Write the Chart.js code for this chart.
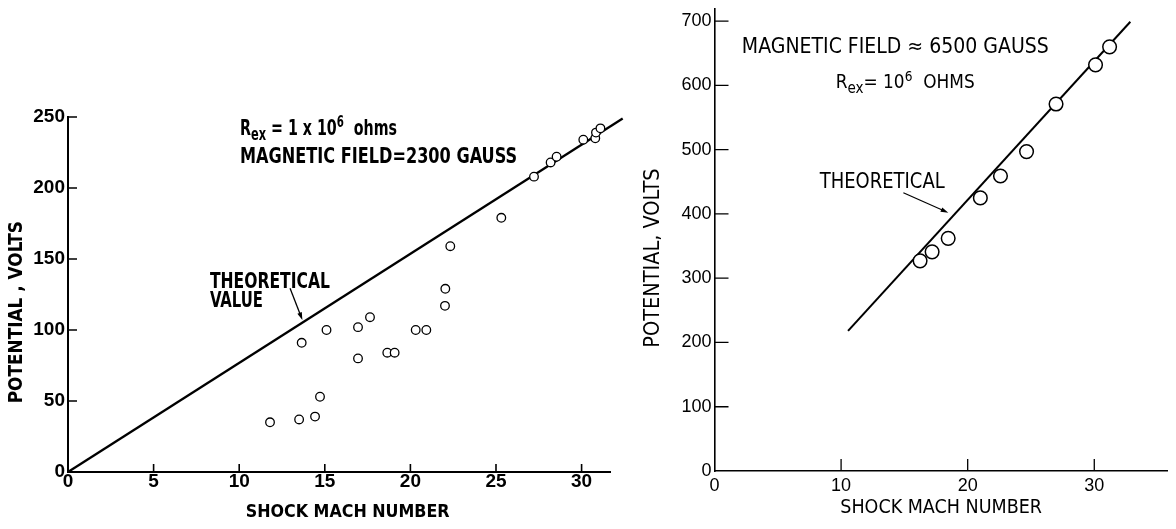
<!DOCTYPE html>
<html><head><meta charset="utf-8">
<script src="https://cdn.jsdelivr.net/npm/chart.js@4.4.1/dist/chart.umd.min.js"></script>
<style>
html,body{margin:0;padding:0;background:#fff;}
body{width:1176px;height:529px;position:relative;overflow:hidden;}
#w1{position:absolute;left:0;top:0;width:640px;height:529px;}
#w2{position:absolute;left:640px;top:0;width:536px;height:529px;}
</style></head><body>
<div id="w1"><canvas id="c1"></canvas></div>
<div id="w2"><canvas id="c2"></canvas></div>
<script>
// ---------- data ----------
const leftMach  = [11.8, 13.5, 13.65, 14.43, 14.72, 15.1, 16.94, 16.94, 17.64, 18.65, 19.08, 20.31, 20.93, 22.02, 22.04, 22.33, 25.31, 27.22, 28.19, 28.54, 30.1, 30.8, 30.84, 31.1];
const leftVolts = [35, 37, 91, 39, 53, 100, 102, 80, 109, 84, 84, 100, 100, 117, 129, 159, 179, 208, 218, 222, 234, 235, 239, 242];
const leftTheoryMach  = [0, 32.4];
const leftTheoryVolts = [0, 249];
const leftXTicks = [0, 5, 10, 15, 20, 25, 30];
const leftYTicks = [0, 50, 100, 150, 200, 250];

const rightMach  = [16.24, 17.19, 18.46, 21.0, 22.59, 24.65, 26.98, 30.1, 31.21];
const rightVolts = [327, 341, 362, 425, 459, 497, 571, 632, 660];
const rightTheoryMach  = [10.55, 32.85];
const rightTheoryVolts = [218, 699];
const rightXTicks = [0, 10, 20, 30];
const rightYTicks = [0, 100, 200, 300, 400, 500, 600, 700];

// ---------- fonts ----------
function hasFont(name){
  const c = document.createElement('canvas').getContext('2d');
  const s = 'MAGNETIC FIELD 0123456789';
  c.font = '40px monospace'; const a = c.measureText(s).width;
  c.font = '40px "' + name + '", monospace'; const b = c.measureText(s).width;
  return Math.abs(a - b) > 1;
}
let NARROW = null;
for (const n of ['Liberation Sans Narrow', 'DejaVu Sans Condensed', 'Roboto Condensed']) { if (hasFont(n)) { NARROW = n; break; } }
const FN = NARROW ? '"' + NARROW + '", "Liberation Sans", sans-serif' : '"Liberation Sans", Arial, sans-serif';
const NF = NARROW ? 1 : 0.85;
const FW = '"Liberation Sans", Arial, sans-serif';

// shifts a centred axis title along its axis by padding it with spaces
function shiftTitle(text, shiftPx, size, weight) {
  const c = document.createElement('canvas').getContext('2d');
  c.font = (weight || 'normal') + ' ' + size + 'px ' + FN;
  const sp = c.measureText(' ').width || 5;
  const n = Math.max(0, Math.round(Math.abs(shiftPx) * 2 / sp));
  return shiftPx > 0 ? ' '.repeat(n) + text : text + ' '.repeat(n);
}

// ---------- plugins ----------
const insideTicks = {
  id: 'insideTicks',
  afterDraw(chart, args, o) {
    const ctx = chart.ctx, xs = chart.scales.x, ys = chart.scales.y, a = chart.chartArea;
    ctx.save(); ctx.strokeStyle = '#000'; ctx.lineWidth = o.width;
    ctx.beginPath();
    xs.ticks.forEach(t => { if (t.value === 0) return; const p = xs.getPixelForValue(t.value); ctx.moveTo(p, a.bottom); ctx.lineTo(p, a.bottom - o.xLen); });
    ys.ticks.forEach(t => { if (t.value === 0) return; const p = ys.getPixelForValue(t.value); ctx.moveTo(a.left, p); ctx.lineTo(a.left + o.yLen, p); });
    ctx.stroke(); ctx.restore();
  }
};

const annot = {
  id: 'annot',
  afterDraw(chart, args, o) {
    const ctx = chart.ctx, xs = chart.scales.x, ys = chart.scales.y;
    ctx.save(); ctx.fillStyle = '#000'; ctx.strokeStyle = '#000';
    (o.items || []).forEach(it => {
      if (it.arrow) {
        const x1 = xs.getPixelForValue(it.arrow[0]), y1 = ys.getPixelForValue(it.arrow[1]);
        const x2 = xs.getPixelForValue(it.arrow[2]), y2 = ys.getPixelForValue(it.arrow[3]);
        const ang = Math.atan2(y2 - y1, x2 - x1), L = it.head || 8;
        ctx.lineWidth = it.lw || 1.3;
        ctx.beginPath(); ctx.moveTo(x1, y1); ctx.lineTo(x2 - Math.cos(ang) * L * 0.6, y2 - Math.sin(ang) * L * 0.6); ctx.stroke();
        ctx.beginPath(); ctx.moveTo(x2, y2);
        ctx.lineTo(x2 - L * Math.cos(ang - 0.3), y2 - L * Math.sin(ang - 0.3));
        ctx.lineTo(x2 - L * Math.cos(ang + 0.3), y2 - L * Math.sin(ang + 0.3));
        ctx.closePath(); ctx.fill();
        return;
      }
      const x0 = xs.getPixelForValue(it.x), y0 = ys.getPixelForValue(it.y);
      const size = it.size * NF, weight = it.weight || 'normal';
      const parts = it.parts;
      const fontFor = p => {
        const s = p.k === 'sub' ? size * 0.8 : p.k === 'sup' ? size * 0.72 : size;
        return weight + ' ' + s.toFixed(1) + 'px ' + FN;
      };
      let total = 0;
      parts.forEach(p => { ctx.font = fontFor(p); total += ctx.measureText(p.t).width; });
      const f = it.w ? it.w / total : 1;
      ctx.save(); ctx.translate(x0, y0); ctx.scale(f, 1); ctx.textBaseline = 'alphabetic'; ctx.textAlign = 'left';
      let cx = 0;
      parts.forEach(p => {
        ctx.font = fontFor(p);
        const dy = p.k === 'sub' ? size * 0.25 : p.k === 'sup' ? -size * 0.38 : 0;
        ctx.fillText(p.t, cx, dy);
        cx += ctx.measureText(p.t).width;
      });
      ctx.restore();
    });
    ctx.restore();
  }
};

function fixTicks(arr) { return s => { s.ticks = arr.map(v => ({ value: v })); }; }
function fitH(h) { return s => { s.height = h; s.paddingLeft = 0; s.paddingRight = 0; s.paddingTop = 0; s.paddingBottom = 0; }; }
function fitW(w) { return s => { s.width = w; s.paddingLeft = 0; s.paddingRight = 0; s.paddingTop = 0; s.paddingBottom = 0; }; }

function pts(xa, ya) { return xa.map((x, i) => ({ x: x, y: ya[i] })); }

const LXT = 17.7 * NF, LYT = 18.8 * NF, RXT = 19.5 * NF, RYT = 21.5 * NF;

// ---------- left chart ----------
new Chart(document.getElementById('c1'), {
  type: 'scatter',
  data: { datasets: [
    { label: 'Measured', data: pts(leftMach, leftVolts), showLine: false, pointRadius: 4.3, pointBorderWidth: 1.3,
      pointBackgroundColor: '#fff', pointBorderColor: '#000', order: 0 },
    { label: 'Theoretical value', data: pts(leftTheoryMach, leftTheoryVolts), showLine: true, borderColor: '#000',
      borderWidth: 2.3, pointRadius: 0, clip: false, order: 1 }
  ]},
  options: {
    responsive: true, maintainAspectRatio: false, animation: false, events: [],
    layout: { padding: { top: 117, right: 29.3, left: 0, bottom: 0 } },
    plugins: {
      legend: { display: false }, tooltip: { enabled: false },
      insideTicks: { width: 1.6, xLen: 8, yLen: 9 },
      annot: { items: [
        { x: 10.05, y: 237.3, size: 21, weight: 'bold', w: 157, parts: [
          { t: 'R' }, { t: 'ex', k: 'sub' }, { t: ' = 1 x 10' }, { t: '6', k: 'sup' }, { t: '  ohms' } ] },
        { x: 10.05, y: 217.6, size: 22, weight: 'bold', w: 277, parts: [ { t: 'MAGNETIC FIELD=2300 GAUSS' } ] },
        { x: 8.29, y: 129.6, size: 21, weight: 'bold', w: 120, parts: [ { t: 'THEORETICAL' } ] },
        { x: 8.29, y: 116.4, size: 21, weight: 'bold', w: 53, parts: [ { t: 'VALUE' } ] },
        { arrow: [12.97, 129.4, 13.69, 107], lw: 1.3, head: 8 }
      ] }
    },
    scales: {
      x: { type: 'linear', min: 0, max: 31.7, afterBuildTicks: fixTicks(leftXTicks), afterFit: fitH(57),
        grid: { display: false, drawTicks: false }, border: { display: true, color: '#000', width: 2 },
        ticks: { color: '#000', padding: 0, maxRotation: 0, autoSkip: false, font: { family: FW, size: 19, weight: 'bold', lineHeight: 1 } },
        title: { display: true, text: shiftTitle('SHOCK MACH NUMBER', 9, LXT, 'bold'), color: '#000', padding: { top: 0, bottom: 5.5 },
          font: { family: FN, size: LXT, weight: 'bold', lineHeight: 1.2 } } },
      y: { type: 'linear', min: 0, max: 250, afterBuildTicks: fixTicks(leftYTicks), afterFit: fitW(68),
        grid: { display: false, drawTicks: false }, border: { display: true, color: '#000', width: 2 },
        ticks: { color: '#000', padding: 3, font: { family: FW, size: 19, weight: 'bold', lineHeight: 1 } },
        title: { display: true, text: shiftTitle('POTENTIAL , VOLTS', -17.5, LYT, 'bold'), color: '#000', padding: { top: 5.5, bottom: 0 },
          font: { family: FN, size: LYT, weight: 'bold', lineHeight: 1.2 } } }
    }
  },
  plugins: [insideTicks, annot]
});

// ---------- right chart ----------
new Chart(document.getElementById('c2'), {
  type: 'scatter',
  data: { datasets: [
    { label: 'Measured', data: pts(rightMach, rightVolts), showLine: false, pointRadius: 6.8, pointBorderWidth: 1.5,
      pointBackgroundColor: '#fff', pointBorderColor: '#000', order: 0 },
    { label: 'Theoretical', data: pts(rightTheoryMach, rightTheoryVolts), showLine: true, borderColor: '#000',
      borderWidth: 2, pointRadius: 0, clip: false, order: 1 }
  ]},
  options: {
    responsive: true, maintainAspectRatio: false, animation: false, events: [],
    layout: { padding: { top: 6.6, right: 0, left: 0, bottom: 0 } },
    plugins: {
      legend: { display: false }, tooltip: { enabled: false },
      insideTicks: { width: 1.3, xLen: 12, yLen: 14 },
      annot: { items: [
        { x: 2.16, y: 650.9, size: 21, w: 307, parts: [ { t: 'MAGNETIC FIELD \u2248 6500 GAUSS' } ] },
        { x: 9.57, y: 595.8, size: 19, w: 139, parts: [
          { t: 'R' }, { t: 'ex', k: 'sub' }, { t: '= 10' }, { t: '6', k: 'sup' }, { t: '  OHMS' } ] },
        { x: 8.31, y: 440.8, size: 21, w: 125, parts: [ { t: 'THEORETICAL' } ] },
        { arrow: [14.92, 433, 18.47, 402], lw: 1.2, head: 8 }
      ] }
    },
    scales: {
      x: { type: 'linear', min: 0, max: 35.8, afterBuildTicks: fixTicks(rightXTicks), afterFit: fitH(58),
        grid: { display: false, drawTicks: false }, border: { display: true, color: '#000', width: 1.6 },
        ticks: { color: '#000', padding: 6, maxRotation: 0, autoSkip: false, font: { family: FW, size: 18, lineHeight: 1 } },
        title: { display: true, text: 'SHOCK MACH NUMBER', color: '#000', padding: { top: 0, bottom: 9.3 },
          font: { family: FN, size: RXT, lineHeight: 1.2 } } },
      y: { type: 'linear', min: 0, max: 720, afterBuildTicks: fixTicks(rightYTicks), afterFit: fitW(74.5),
        grid: { display: false, drawTicks: false }, border: { display: true, color: '#000', width: 1.6 },
        ticks: { color: '#000', padding: 3, font: { family: FW, size: 18, lineHeight: 1 } },
        title: { display: true, text: shiftTitle('POTENTIAL, VOLTS', -18, RYT, 'normal'), color: '#000', padding: { top: 0.6, bottom: 0 },
          font: { family: FN, size: RYT, lineHeight: 1.2 } } }
    }
  },
  plugins: [insideTicks, annot]
});
</script>
</body></html>
